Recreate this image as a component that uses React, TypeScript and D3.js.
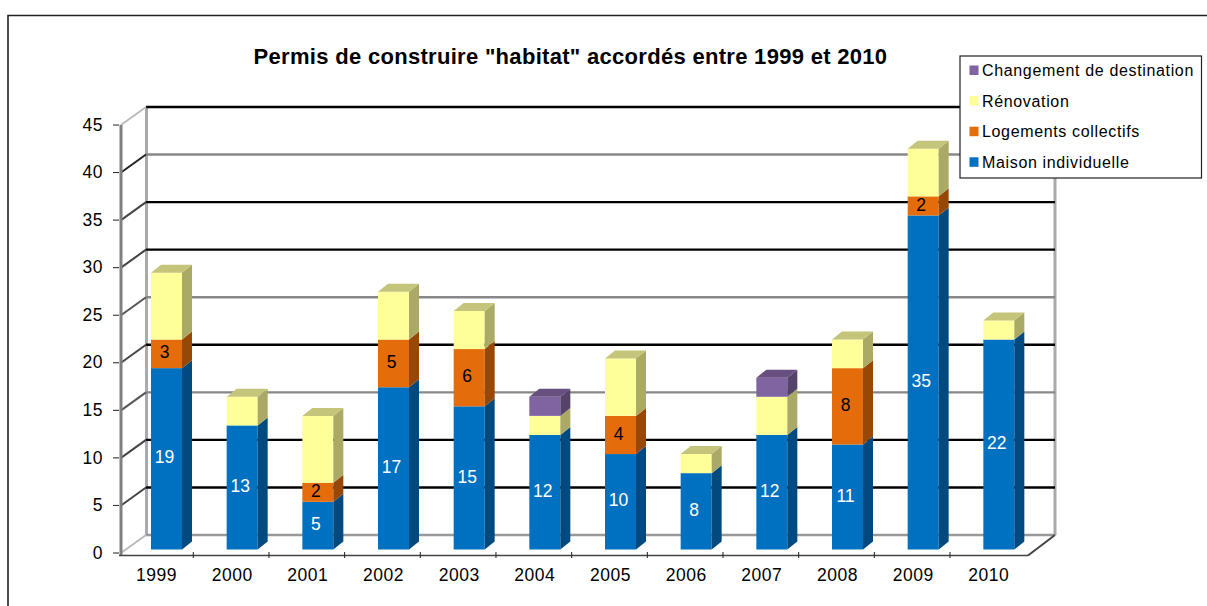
import React from "react";
import * as d3 from "d3";

const years = ["1999","2000","2001","2002","2003","2004","2005","2006","2007","2008","2009","2010"];
const maison = [19,13,5,17,15,12,10,8,12,11,35,22];
const collectifs = [3,0,2,5,6,0,4,0,0,8,2,0];
const renovation = [7,3,7,5,4,2,6,2,4,3,5,2];
const changement = [0,0,0,0,0,2,0,0,2,0,0,0];
const seriesNames = ["Maison individuelle","Logements collectifs","Rénovation","Changement de destination"];
const seriesColors = [
  { front: "#0070c0", side: "#004a80", top: "#3d8fcc", label: "#fff" },
  { front: "#e46c0a", side: "#974807", top: "#ad5a10", label: "#000" },
  { front: "#ffff99", side: "#aaaa66", top: "#c4c47a", label: "#000" },
  { front: "#8064a2", side: "#55436c", top: "#67507f", label: "#000" },
];
const yTicks = [0,5,10,15,20,25,30,35,40,45];
const gridColors = ["#999","#000","#000","#888","#000","#888","#000","#000","#888","#000"];
const sideWallColors = ["#bbb","#444","#444","#555","#444","#555","#444","#444","#222","#bbb"];

const FONT = "'Liberation Sans', Arial, sans-serif";

export default function App() {
  const series = [maison, collectifs, renovation, changement];
  const yFront = d3.scaleLinear().domain([0, 45]).range([553, 125]);
  const yBack = d3.scaleLinear().domain([0, 45]).range([535, 107]);
  const yBar = d3.scaleLinear().domain([0, 45]).range([549.5, 120]);
  const xAxis = d3.scaleLinear().domain([0, 12]).range([120, 1028]);
  const xTick = d3.scaleLinear().domain([1, 11]).range([193.3, 950]);
  const barW = 31;
  const dx = 10;
  const dy = 8;
  const barLeft = (i: number) => xAxis(i) + 31;
  const legendRows = [3, 2, 1, 0];

  return (
    <svg width={1207} height={606} style={{ position: "absolute", left: 0, top: 0, background: "#fff" }} fontFamily={FONT}>
      <path d="M8,606 V15.5 H1207" fill="none" stroke="#222" strokeWidth={1.6} />
      <text x={570.5} y={64} textAnchor="middle" fontSize={22} fontWeight="bold" letterSpacing={0.3} fill="#000">
        Permis de construire "habitat" accordés entre 1999 et 2010
      </text>

      {/* walls */}
      <line x1={146.5} x2={146.5} y1={yBack(45)} y2={yBack(0)} stroke="#aaa" strokeWidth={3} />
      <line x1={1055} x2={1055} y1={yBack(45)} y2={yBack(0)} stroke="#aaa" strokeWidth={3} />
      {yTicks.map((t, i) => (
        <g key={t}>
          <line x1={146} x2={1055} y1={yBack(t)} y2={yBack(t)} stroke={gridColors[i]} strokeWidth={2.4} />
          <line x1={121} x2={146} y1={yFront(t)} y2={yBack(t)} stroke={sideWallColors[i]} strokeWidth={2} />
          <line x1={113} x2={119} y1={yFront(t)} y2={yFront(t)} stroke="#222" strokeWidth={1} />
          <text x={103} y={yFront(t) + 1} textAnchor="end" dominantBaseline="middle" fontSize={17.5} letterSpacing={0.5} fill="#000">{t}</text>
        </g>
      ))}
      <line x1={121} x2={121} y1={yFront(45)} y2={555} stroke="#808080" strokeWidth={3} />
      <line x1={119} x2={1028} y1={555.5} y2={555.5} stroke="#444" strokeWidth={1.6} />
      <line x1={1028} x2={1055} y1={555.5} y2={535} stroke="#444" strokeWidth={2} />
      {d3.range(1, 12).map((i) => (
        <line key={i} x1={xTick(i)} x2={xTick(i)} y1={552} y2={558} stroke="#222" strokeWidth={1} />
      ))}
      {years.map((y, i) => (
        <text key={y} x={xAxis(i) + 36.5} y={580.5} textAnchor="middle" fontSize={17.5} letterSpacing={0.5} fill="#000">{y}</text>
      ))}

      {/* bars */}
      {years.map((y, i) => {
        let acc = 0;
        const x = barLeft(i);
        const total = d3.sum(series, (s) => s[i]);
        return (
          <g key={y}>
            {series.map((s, k) => {
              const v = s[i];
              if (!v) return null;
              const y0 = yBar(acc);
              const y1 = yBar(acc + v);
              acc += v;
              const c = seriesColors[k];
              const isTop = acc === total;
              const showLabel = k < 2;
              return (
                <g key={k}>
                  <rect x={x} y={y1} width={barW} height={y0 - y1} fill={c.front} />
                  <polygon
                    points={`${x + barW},${y0} ${x + barW + dx},${y0 - dy} ${x + barW + dx},${y1 - dy} ${x + barW},${y1}`}
                    fill={c.side}
                  />
                  {isTop && (
                    <polygon
                      points={`${x},${y1} ${x + dx},${y1 - dy} ${x + barW + dx},${y1 - dy} ${x + barW},${y1}`}
                      fill={c.top}
                    />
                  )}
                  {showLabel && (
                    <text x={x + barW / 2 - 2} y={(y0 + y1) / 2} textAnchor="middle" dominantBaseline="middle" fontSize={17.5} fill={c.label}>{v}</text>
                  )}
                </g>
              );
            })}
          </g>
        );
      })}

      {/* legend */}
      <rect x={960} y={56} width={241.5} height={122} fill="#fff" stroke="#222" strokeWidth={1.2} />
      {legendRows.map((k, r) => (
        <g key={k}>
          <rect x={969.5} y={65.5 + r * 30.6} width={9} height={9.5} fill={seriesColors[k].front} />
          <text x={982} y={76 + r * 30.6} fontSize={16} letterSpacing={0.65} fill="#000">{seriesNames[k]}</text>
        </g>
      ))}
    </svg>
  );
}
